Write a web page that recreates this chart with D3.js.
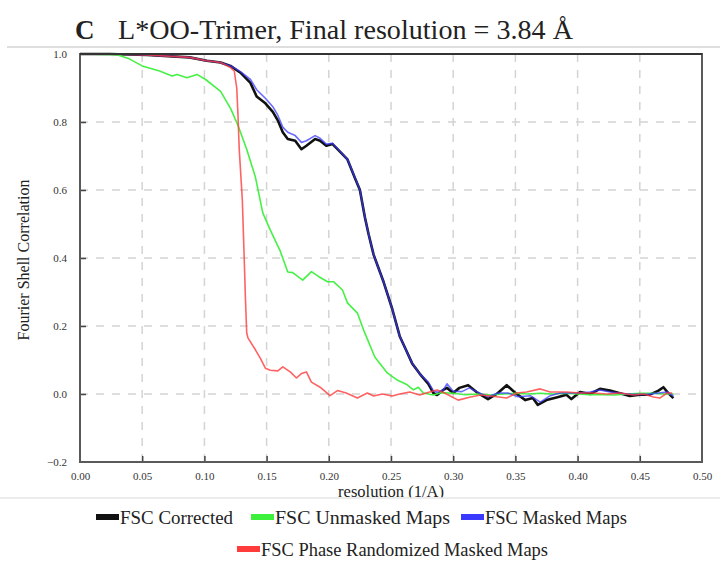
<!DOCTYPE html>
<html>
<head>
<meta charset="utf-8">
<script src="https://cdn.jsdelivr.net/npm/d3@7"></script>
<style>
  html, body { margin: 0; padding: 0; background: #fff; }
  svg { display: block; }
</style>
</head>
<body>
<svg id="chart" width="720" height="561"></svg>
<script>
// FSC curves: spatial frequency (1/Å) against Fourier shell correlation
const correctedRes = [0, 0.024, 0.054, 0.088, 0.102, 0.113, 0.121, 0.129, 0.137, 0.142, 0.149, 0.155, 0.159, 0.163, 0.167, 0.173, 0.178, 0.182, 0.189, 0.193, 0.198, 0.203, 0.207, 0.215, 0.221, 0.225, 0.229, 0.232, 0.236, 0.240, 0.244, 0.251, 0.257, 0.262, 0.267, 0.273, 0.280, 0.284, 0.287, 0.292, 0.295, 0.300, 0.305, 0.312, 0.319, 0.328, 0.335, 0.343, 0.350, 0.358, 0.364, 0.368, 0.375, 0.383, 0.391, 0.395, 0.402, 0.410, 0.418, 0.426, 0.434, 0.442, 0.450, 0.458, 0.465, 0.469, 0.473, 0.477];
const correctedFsc = [1.0, 1.0, 0.997, 0.99, 0.98, 0.975, 0.965, 0.945, 0.915, 0.875, 0.855, 0.83, 0.805, 0.77, 0.75, 0.745, 0.72, 0.73, 0.75, 0.745, 0.73, 0.735, 0.72, 0.69, 0.635, 0.60, 0.52, 0.47, 0.41, 0.37, 0.33, 0.25, 0.17, 0.13, 0.09, 0.06, 0.03, 0.003, -0.003, 0.012, 0.018, 0.003, 0.018, 0.026, 0.005, -0.015, 0.0, 0.026, 0.003, -0.018, -0.012, -0.032, -0.018, -0.01, -0.002, -0.015, 0.006, 0.0, 0.015, 0.01, 0.002, -0.006, -0.002, -0.002, 0.01, 0.02, 0.002, -0.012];

const unmaskedRes = [0, 0.030, 0.040, 0.050, 0.064, 0.074, 0.078, 0.086, 0.094, 0.101, 0.113, 0.121, 0.127, 0.131, 0.134, 0.141, 0.147, 0.153, 0.161, 0.167, 0.171, 0.179, 0.186, 0.192, 0.199, 0.204, 0.211, 0.215, 0.223, 0.228, 0.237, 0.247, 0.255, 0.263, 0.268, 0.272, 0.276, 0.284, 0.290, 0.300, 0.310, 0.320, 0.330, 0.340, 0.350, 0.360, 0.370, 0.380, 0.390, 0.400, 0.410, 0.420, 0.430, 0.440, 0.450, 0.460, 0.470, 0.477];
const unmaskedFsc = [1.0, 0.998, 0.985, 0.965, 0.95, 0.935, 0.94, 0.93, 0.94, 0.925, 0.89, 0.84, 0.79, 0.75, 0.72, 0.638, 0.532, 0.482, 0.42, 0.359, 0.357, 0.335, 0.36, 0.345, 0.33, 0.33, 0.306, 0.268, 0.238, 0.188, 0.109, 0.062, 0.041, 0.027, 0.012, 0.02, 0.003, -0.003, 0.004, 0.002, -0.002, 0.0, -0.003, 0.0, 0.002, 0.0, 0.002, 0.0, 0.002, 0.0, -0.002, -0.002, -0.003, 0.0, 0.002, 0.002, 0.0, 0.0];

const maskedRes = [0, 0.024, 0.054, 0.088, 0.102, 0.113, 0.121, 0.129, 0.137, 0.142, 0.149, 0.155, 0.159, 0.163, 0.167, 0.173, 0.178, 0.182, 0.189, 0.193, 0.198, 0.203, 0.207, 0.215, 0.221, 0.225, 0.229, 0.232, 0.236, 0.240, 0.244, 0.251, 0.257, 0.262, 0.267, 0.273, 0.280, 0.284, 0.287, 0.292, 0.295, 0.300, 0.307, 0.313, 0.321, 0.328, 0.336, 0.344, 0.352, 0.362, 0.370, 0.378, 0.386, 0.394, 0.402, 0.410, 0.418, 0.426, 0.434, 0.444, 0.456, 0.465, 0.472, 0.477];
const maskedFsc = [1.0, 1.0, 0.997, 0.99, 0.98, 0.975, 0.965, 0.948, 0.925, 0.895, 0.87, 0.845, 0.82, 0.785, 0.77, 0.76, 0.74, 0.745, 0.76, 0.752, 0.735, 0.737, 0.722, 0.69, 0.637, 0.60, 0.52, 0.47, 0.41, 0.37, 0.33, 0.25, 0.17, 0.13, 0.09, 0.06, 0.035, 0.01, 0.005, 0.012, 0.03, 0.008, 0.007, 0.018, 0.003, -0.008, 0.003, 0.003, -0.008, -0.005, -0.024, -0.005, 0.003, 0.003, 0.003, 0.006, 0.012, 0.006, 0.002, -0.001, -0.001, 0.003, 0.006, -0.006];

const randomizedRes = [0, 0.024, 0.054, 0.088, 0.102, 0.113, 0.121, 0.124, 0.126, 0.127, 0.128, 0.1305, 0.132, 0.133, 0.134, 0.135, 0.141, 0.145, 0.149, 0.153, 0.159, 0.163, 0.169, 0.174, 0.178, 0.182, 0.186, 0.193, 0.201, 0.207, 0.214, 0.223, 0.231, 0.236, 0.243, 0.251, 0.257, 0.265, 0.273, 0.281, 0.287, 0.293, 0.304, 0.314, 0.322, 0.330, 0.343, 0.351, 0.359, 0.370, 0.378, 0.391, 0.402, 0.412, 0.424, 0.434, 0.445, 0.453, 0.461, 0.466, 0.472, 0.476];
const randomizedFsc = [1.0, 1.0, 0.997, 0.99, 0.98, 0.975, 0.96, 0.95, 0.90, 0.82, 0.72, 0.57, 0.40, 0.28, 0.18, 0.165, 0.13, 0.105, 0.076, 0.07, 0.068, 0.08, 0.065, 0.047, 0.06, 0.065, 0.035, 0.02, -0.005, 0.01, 0.003, -0.012, 0.003, -0.006, 0.0, -0.006, 0.0, 0.006, -0.003, 0.006, 0.012, 0.003, -0.018, -0.009, -0.003, -0.006, -0.012, 0.003, 0.006, 0.015, 0.006, 0.006, 0.003, 0.003, 0.0, 0.003, -0.003, 0.0, -0.009, -0.012, 0.003, 0.003];

const seriesNames = ["FSC Corrected", "FSC Unmasked Maps", "FSC Masked Maps", "FSC Phase Randomized Masked Maps"];
const seriesColors = ["#111111", "#3cf03c", "#3a3aff", "#ff3b3b"];
const xTicks = [0, 0.05, 0.10, 0.15, 0.20, 0.25, 0.30, 0.35, 0.40, 0.45, 0.50];
const yTicks = [-0.2, 0.0, 0.2, 0.4, 0.6, 0.8, 1.0];

const titleLetter = "C";
const titleText = "L*OO-Trimer, Final resolution = 3.84 Å";
const xLabel = "resolution (1/A)";
const yLabel = "Fourier Shell Correlation";

const svg = d3.select("#chart");
const serif = "'Liberation Serif', 'Times New Roman', serif";

const plot = { left: 80, right: 702, top: 54, bottom: 462 };
const x = d3.scaleLinear().domain([0, 0.5]).range([plot.left, plot.right]);
const y = d3.scaleLinear().domain([-0.2, 1.0]).range([plot.bottom, plot.top]);

// title and the rule beneath it
svg.append("text")
  .attr("x", 75).attr("y", 39)
  .attr("font-family", serif).attr("font-size", 27).attr("font-weight", "bold")
  .attr("fill", "#222")
  .text(titleLetter);
svg.append("text")
  .attr("x", 118).attr("y", 39)
  .attr("font-family", serif).attr("font-size", 27)
  .attr("textLength", 455).attr("lengthAdjust", "spacingAndGlyphs")
  .attr("fill", "#222")
  .text(titleText);
svg.append("line")
  .attr("x1", 7).attr("x2", 720).attr("y1", 47).attr("y2", 47)
  .attr("stroke", "#bdbdbd").attr("stroke-width", 1);

// dashed grid
const grid = svg.append("g");
grid.selectAll("line.v").data(xTicks.slice(1, -1)).join("line")
  .attr("x1", d => x(d)).attr("x2", d => x(d))
  .attr("y1", plot.top).attr("y2", plot.bottom)
  .attr("stroke", "#d4d4d4").attr("stroke-width", 1.5)
  .attr("stroke-dasharray", "8,8");
grid.selectAll("line.h").data(yTicks.slice(1, -1)).join("line")
  .attr("x1", plot.left).attr("x2", plot.right)
  .attr("y1", d => y(d)).attr("y2", d => y(d))
  .attr("stroke", "#d4d4d4").attr("stroke-width", 1.5)
  .attr("stroke-dasharray", "8,8");

// axes with inward ticks
const xAxis = d3.axisBottom(x).tickValues(xTicks).tickFormat(d3.format(".2f"))
  .tickSizeInner(-6).tickSizeOuter(0).tickPadding(14);
const yAxis = d3.axisLeft(y).tickValues(yTicks).tickFormat(d3.format(".1f"))
  .tickSizeInner(-6).tickSizeOuter(0).tickPadding(13);

const gx = svg.append("g").attr("transform", `translate(0,${plot.bottom})`).call(xAxis);
const gy = svg.append("g").attr("transform", `translate(${plot.left},0)`).call(yAxis);
[gx, gy].forEach(g => {
  g.select(".domain").remove();
  g.selectAll(".tick line").attr("stroke", "#444").attr("stroke-width", 1.5);
  g.selectAll(".tick text")
    .attr("font-family", serif).attr("font-size", 11).attr("fill", "#333");
});
gx.selectAll(".tick text").attr("dy", "0.35em");
gx.selectAll(".tick line").filter(d => d === 0 || d === 0.5).remove();
gy.selectAll(".tick line").filter(d => d === -0.2 || d === 1.0).remove();

// curves
const line = d3.line().x(d => x(d[0])).y(d => y(d[1])).curve(d3.curveLinear);
const zip = (a, b) => a.map((v, i) => [v, b[i]]);
const curves = [
  { pts: zip(correctedRes, correctedFsc), color: seriesColors[0], width: 2.6, opacity: 1 },
  { pts: zip(unmaskedRes, unmaskedFsc), color: seriesColors[1], width: 1.6, opacity: 0.95 },
  { pts: zip(maskedRes, maskedFsc), color: seriesColors[2], width: 1.6, opacity: 0.75 },
  { pts: zip(randomizedRes, randomizedFsc), color: seriesColors[3], width: 1.6, opacity: 0.8 }
];
svg.append("g").selectAll("path").data(curves).join("path")
  .attr("d", d => line(d.pts))
  .attr("fill", "none")
  .attr("stroke", d => d.color)
  .attr("stroke-width", d => d.width)
  .attr("stroke-opacity", d => d.opacity)
  .attr("stroke-linejoin", "round");

// plot frame
svg.append("rect")
  .attr("x", plot.left).attr("y", plot.top)
  .attr("width", plot.right - plot.left).attr("height", plot.bottom - plot.top)
  .attr("fill", "none").attr("stroke", "#5a5a5a").attr("stroke-width", 2);
svg.append("line")
  .attr("x1", plot.left).attr("x2", plot.right).attr("y1", plot.top).attr("y2", plot.top)
  .attr("stroke", "#333").attr("stroke-width", 2);

// axis titles
svg.append("text")
  .attr("x", 391).attr("y", 497)
  .attr("text-anchor", "middle")
  .attr("font-family", serif).attr("font-size", 16.5).attr("fill", "#222")
  .text(xLabel);
svg.append("text")
  .attr("transform", `translate(29,260) rotate(-90)`)
  .attr("text-anchor", "middle")
  .attr("font-family", serif).attr("font-size", 16).attr("fill", "#222")
  .text(yLabel);

// strip under the axis title
svg.append("rect").attr("x", 0).attr("y", 498).attr("width", 720).attr("height", 63).attr("fill", "#fff");
svg.append("line")
  .attr("x1", 0).attr("x2", 720).attr("y1", 498).attr("y2", 498)
  .attr("stroke", "#e6e6e6").attr("stroke-width", 1.5);

// legend
const legendItems = [
  { name: seriesNames[0], color: seriesColors[0], sx: 96, ty: 524, len: 113 },
  { name: seriesNames[1], color: seriesColors[1], sx: 251, ty: 524, len: 175 },
  { name: seriesNames[2], color: seriesColors[2], sx: 461, ty: 524, len: 142 },
  { name: seriesNames[3], color: seriesColors[3], sx: 237, ty: 556, len: 287 }
];
const lg = svg.append("g");
lg.selectAll("rect").data(legendItems).join("rect")
  .attr("x", d => d.sx).attr("y", d => d.ty - 10)
  .attr("width", 23).attr("height", 6)
  .attr("fill", d => d.color);
lg.selectAll("text").data(legendItems).join("text")
  .attr("x", d => d.sx + 24).attr("y", d => d.ty)
  .attr("font-family", serif).attr("font-size", 18.5).attr("fill", "#222")
  .attr("textLength", d => d.len).attr("lengthAdjust", "spacingAndGlyphs")
  .text(d => d.name);
</script>
</body>
</html>
